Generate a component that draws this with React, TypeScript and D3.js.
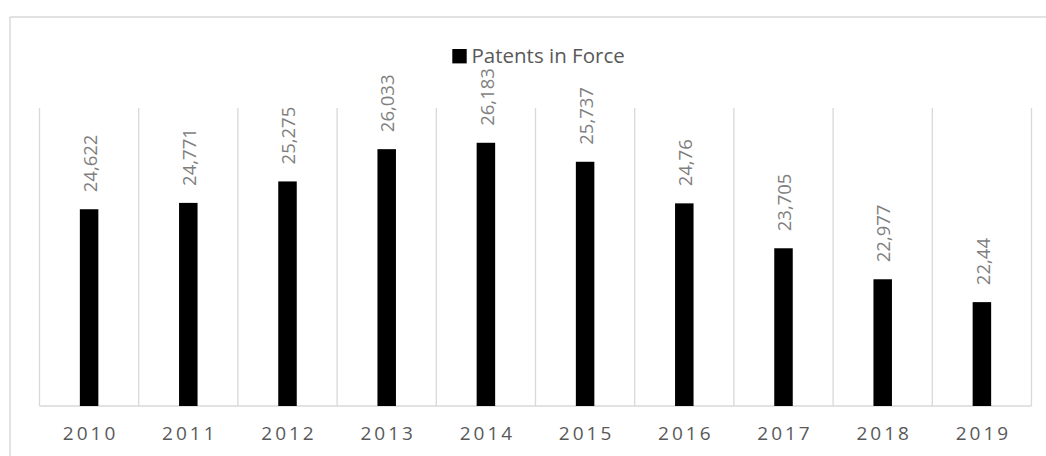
import React from "react";
import * as d3 from "d3";

const categories = ["2010", "2011", "2012", "2013", "2014", "2015", "2016", "2017", "2018", "2019"];
const values = [24622, 24771, 25275, 26033, 26183, 25737, 24760, 23705, 22977, 22440];
const labels = ["24,622", "24,771", "25,275", "26,033", "26,183", "25,737", "24,76", "23,705", "22,977", "22,44"];
const seriesName = "Patents in Force";

const W = 1046;
const H = 456;
const left = 39.5;
const right = 1031.5;
const top = 108;
const bottom = 406;
const font = "'Open Sans', 'Liberation Sans', sans-serif";

export default function App() {
  const x = d3.scaleBand<string>().domain(categories).range([left, right]).paddingInner(0).paddingOuter(0);
  const y = d3.scaleLinear().domain([20000, 27000]).range([bottom, top]);
  const bw = 18.5;
  const grid = "#d9d9d9";
  return (
    <svg width={W} height={H} style={{ position: "absolute", left: 0, top: 0 }}>
      <rect x={0} y={0} width={W} height={H} fill="#fff" />
      <line x1={10} x2={W} y1={17} y2={17} stroke={grid} strokeWidth={1.5} />
      <line x1={10} x2={10} y1={17} y2={H} stroke={grid} strokeWidth={1.5} />
      {categories.map((c, i) => (
        <line key={"g" + i} x1={x(c)!} x2={x(c)!} y1={top} y2={bottom} stroke={grid} strokeWidth={1.3} />
      ))}
      <line x1={right} x2={right} y1={top} y2={bottom} stroke={grid} strokeWidth={1.3} />
      <line x1={left} x2={right} y1={bottom} y2={bottom} stroke={grid} strokeWidth={1.5} />
      {categories.map((c, i) => {
        const cx = x(c)! + x.bandwidth() / 2;
        return (
          <rect key={"b" + i} x={cx - bw / 2} y={y(values[i])} width={bw} height={bottom - y(values[i])} fill="#000" />
        );
      })}
      {categories.map((c, i) => {
        const cx = x(c)! + x.bandwidth() / 2 + 1;
        const yy = y(values[i]) - 17;
        return (
          <text
            key={"l" + i}
            transform={`translate(${cx},${yy}) rotate(-90)`}
            dy="0.36em"
            fontFamily={font}
            fontSize={18.5}
            fill="#7f7f7f"
            textAnchor="start"
          >
            {labels[i]}
          </text>
        );
      })}
      {categories.map((c, i) => {
        const cx = x(c)! + x.bandwidth() / 2;
        return (
          <text
            key={"t" + i}
            x={cx + 1.5}
            y={440}
            fontFamily={font}
            fontSize={19}
            fill="#595959"
            textAnchor="middle"
            letterSpacing={3}
          >
            {c}
          </text>
        );
      })}
      <rect x={452.3} y={49} width={14.4} height={14.4} fill="#000" />
      <text x={471.5} y={63.3} fontFamily={font} fontSize={20.5} fill="#595959">
        {seriesName}
      </text>
    </svg>
  );
}
